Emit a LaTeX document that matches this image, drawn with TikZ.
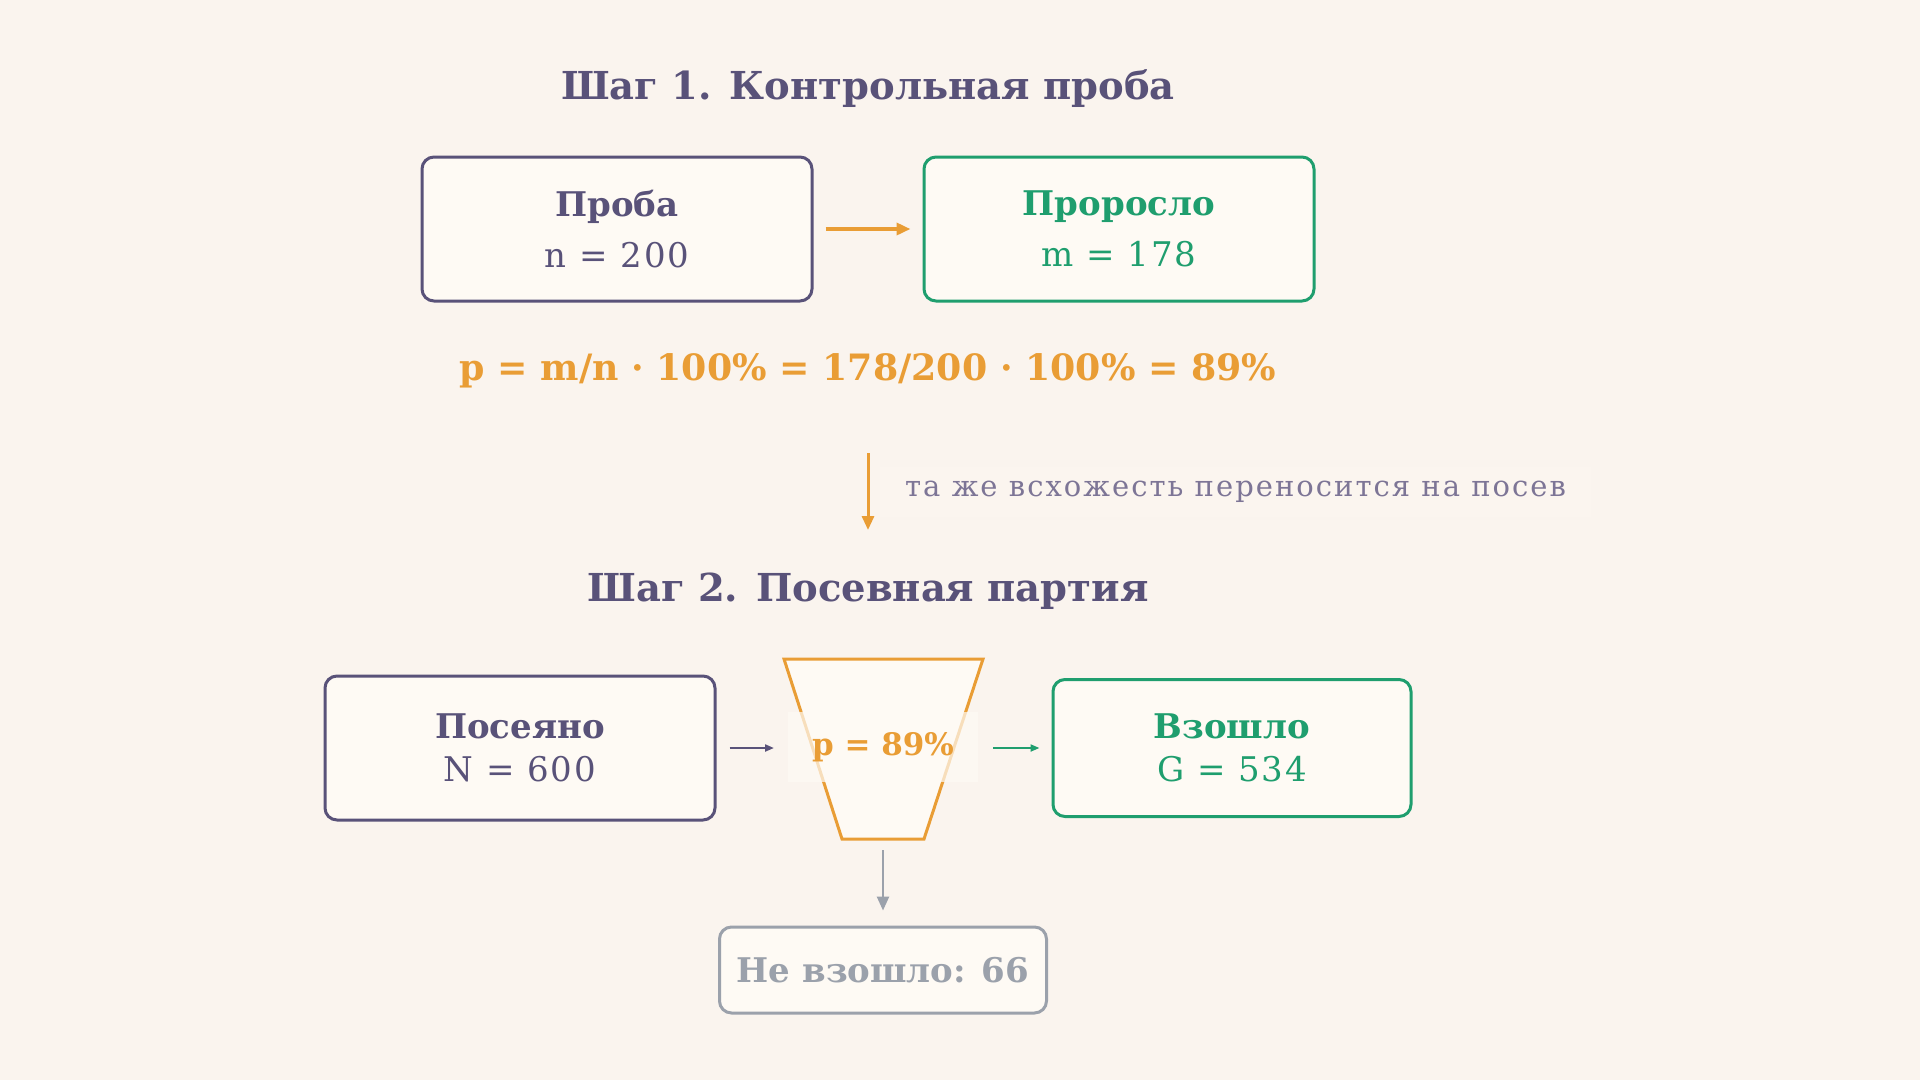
\documentclass[tikz,border=0pt]{standalone}
\usepackage{fontspec}
\setmainfont{DejaVu Serif}
\usetikzlibrary{arrows.meta}
\definecolor{bgcol}{HTML}{FAF4EE}
\definecolor{boxfill}{HTML}{FEFAF4}
\definecolor{ink}{HTML}{595279}
\definecolor{leaf}{HTML}{1F9E6E}
\definecolor{amber}{HTML}{E99D35}
\definecolor{ash}{HTML}{9BA1AB}
\definecolor{note}{HTML}{7D7596}
\newcommand{\wide}[1]{{\addfontfeature{LetterSpace=5.5}#1}}
\tikzset{
  card/.style={draw, line width=3pt, rounded corners=12pt, fill=boxfill,
    minimum width=390pt, minimum height=144pt, align=center, font=\fontsize{34}{51}\selectfont},
  head/.style={font=\fontsize{38.5}{46}\selectfont\bfseries, text=ink},
  tip/.style={-{Triangle[length=14pt,width=12pt]}},
  smalltip/.style={-{Triangle[length=9pt,width=7pt]}}
}
\begin{document}
\begin{tikzpicture}[x=1pt,y=-1pt]
	\fill[bgcol] (0,0) rectangle (1920,1080);
	\useasboundingbox (0,0) rectangle (1920,1080);
	% step 1
	\node[head] (step1) at (868,89) {Шаг 1. Контрольная проба};
	\node[card, draw=ink, text=ink] (sample) at (617,229) {\textbf{Проба}\\\wide{n = 200}};
	\node[card, draw=leaf, text=leaf] (grown) at (1119,229) {\textbf{Проросло}\\\wide{m = 178}};
	\draw[amber, line width=4pt, tip, shorten <=12pt, shorten >=12pt] (sample.east) -- (grown.west);
	\node[text=amber, font=\fontsize{36.3}{42}\selectfont\bfseries] (formula) at (868,371) {p = m/n · 100\% = 178/200 · 100\% = 89\%};
	% step 2
	\node[head] (step2) at (868,591) {Шаг 2. Посевная партия};
	\draw[amber, line width=3pt, tip, shorten <=82pt, shorten >=61pt] (formula.center) -- (step2.center);
	\node[anchor=west, fill=boxfill, fill opacity=0.3, text opacity=1, text=note, inner xsep=25pt, minimum height=50pt,
	  font=\fontsize{29}{34}\selectfont\addfontfeature{LetterSpace=7}] (carry) at (880,492) {та же всхожесть переносится на посев};
	\node[card, draw=ink, text=ink, font=\fontsize{34}{43}\selectfont] (sown) at (520,748) {\textbf{Посеяно}\\\wide{N = 600}};
	\node[card, draw=leaf, text=leaf, minimum width=358pt, minimum height=137pt, font=\fontsize{34}{43}\selectfont] (came) at (1232,748) {\textbf{Взошло}\\\wide{G = 534}};
	\coordinate (ftl) at (784,659);
	\coordinate (ftr) at (983,659);
	\coordinate (fbr) at (924,839);
	\coordinate (fbl) at (842,839);
	\coordinate (fl) at (813,748);
	\coordinate (fr) at (954,748);
	\coordinate (fb) at (883,839);
	\draw[amber, line width=3pt, fill=boxfill] (ftl) -- (ftr) -- (fbr) -- (fbl) -- cycle;
	\node[fill=boxfill, fill opacity=0.7, text opacity=1, text=amber, font=\fontsize{31}{38}\selectfont\bfseries,
	  minimum width=190pt, minimum height=70pt] (rate) at (883,747) {p = 89\%};
	\node[card, draw=ash, text=ash, minimum width=327pt, minimum height=86pt, font=\fontsize{34}{40}\selectfont\bfseries] (lost) at (883,970) {Не взошло: 66};
	\draw[ink, line width=2pt, smalltip, shorten <=13pt, shorten >=39pt] (sown.east) -- (fl);
	\draw[leaf, line width=2pt, smalltip, shorten <=39pt, shorten >=12pt] (fr) -- (came.west);
	\draw[ash, line width=2.5pt, tip, shorten <=11pt, shorten >=15pt] (fb) -- (lost.north);
\end{tikzpicture}
\end{document}
